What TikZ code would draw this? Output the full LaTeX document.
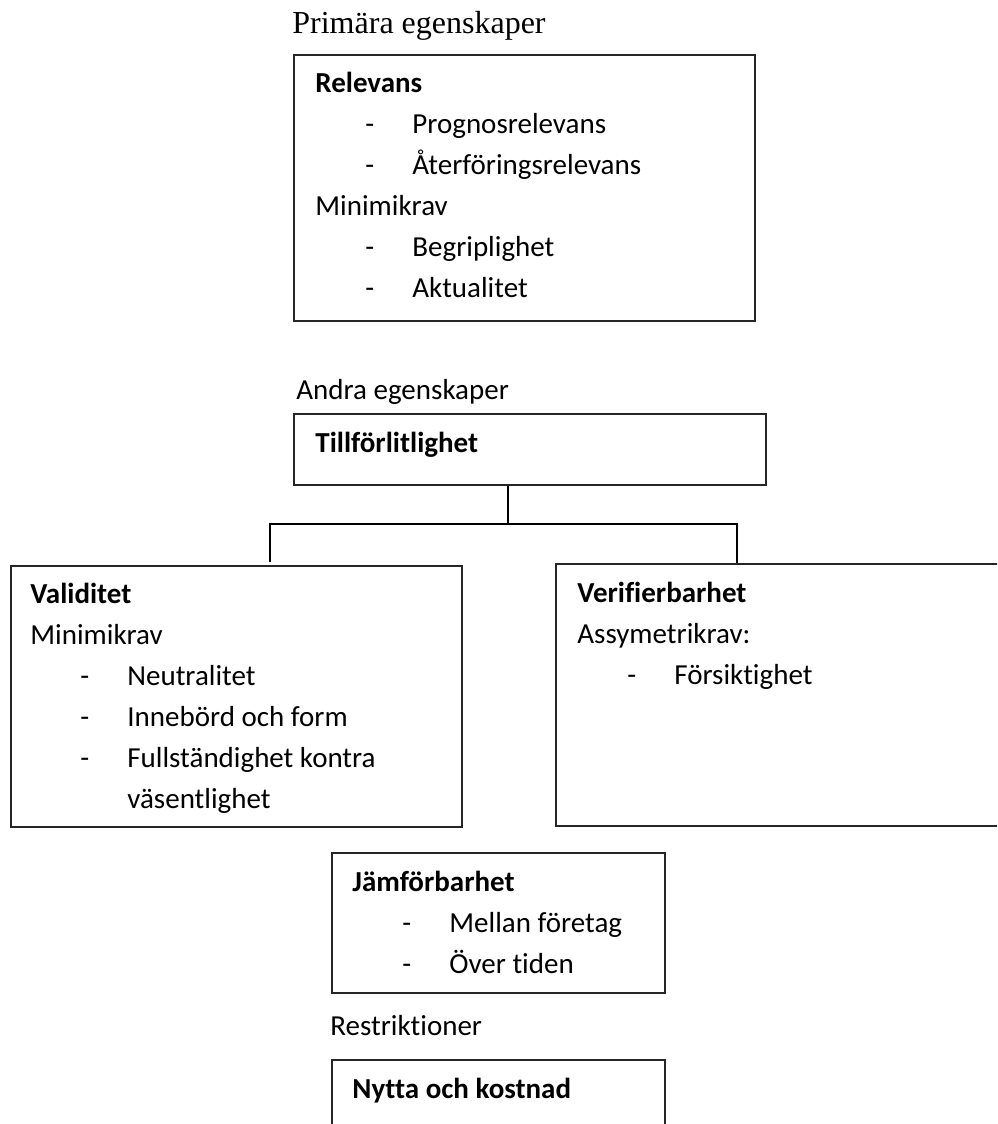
\documentclass[tikz,border=0pt]{standalone}
\usepackage{fontspec}
\setmainfont{Carlito}[Ligatures=NoCommon]
\newfontfamily\timesfont{Liberation Serif}
\usetikzlibrary{positioning, fit}
\newcommand{\punkt}[1]{\hspace*{25pt}\makebox[23.5pt][l]{-}#1}

\begin{document}
\begin{tikzpicture}
  [x=0.5pt, y=-0.5pt,
   frame/.style={rectangle, draw=black!85, line width=0.65pt, inner sep=0pt},
   textblock/.style={anchor=base west, align=left, inner sep=0pt,
     font=\fontsize{14.5}{20.5}\selectfont},
   link/.style={draw=black, line width=1.1pt}]

  \clip (0,0) rectangle (997,1124);

  % primary qualities (text blocks sit on their last baseline)
  \node[anchor=base west, inner sep=0pt, font=\timesfont\fontsize{16}{19}\selectfont]
    (prim) at (292,33) {Primära egenskaper};
  \node[frame, fit={(294,55) (755,321)}] (relevans) {};
  \node[textblock] (relevanstext) at (315,297)
    {\textbf{Relevans}\\
     \punkt{Prognosrelevans}\\
     \punkt{Återföringsrelevans}\\
     Minimikrav\\
     \punkt{Begriplighet}\\
     \punkt{Aktualitet}};

  % secondary qualities
  \node[textblock] (andra) at (296,399) {Andra egenskaper};
  \node[frame, fit={(294,414) (766,485)}] (tillf) {};
  \node[textblock] (tillftext) at (315,452) {\textbf{Tillförlitlighet}};

  \node[frame, fit={(11,566) (462,827)}] (valid) {};
  \node[textblock] (validtext) at (30,808)
    {\textbf{Validitet}\\
     Minimikrav\\
     \punkt{Neutralitet}\\
     \punkt{Innebörd och form}\\
     \punkt{Fullständighet kontra}\\
     \hspace*{48.5pt}väsentlighet};

  \node[frame, fit={(556,564) (1010,826)}] (verif) {};
  \node[textblock] (veriftext) at (577,684)
    {\textbf{Verifierbarhet}\\
     Assymetrikrav:\\
     \punkt{Försiktighet}};

  % tree connector
  \coordinate (fork) at (508,524);
  \coordinate (validtop) at (270,562);
  \coordinate (veriftop) at (737,563);
  \draw[link] (tillf.south -| fork) -- (fork);
  \draw[link] (validtop) |- (fork) -| (veriftop);

  % comparability
  \node[frame, fit={(332,853) (665,993)}] (jamf) {};
  \node[textblock] (jamftext) at (352,973)
    {\textbf{Jämförbarhet}\\
     \punkt{Mellan företag}\\
     \punkt{Över tiden}};

  % restrictions
  \node[textblock] (restr) at (330,1035) {Restriktioner};
  \node[frame, fit={(332,1060) (665,1140)}] (nytta) {};
  \node[textblock] (nyttatext) at (352,1098) {\textbf{Nytta och kostnad}};
\end{tikzpicture}
\end{document}
